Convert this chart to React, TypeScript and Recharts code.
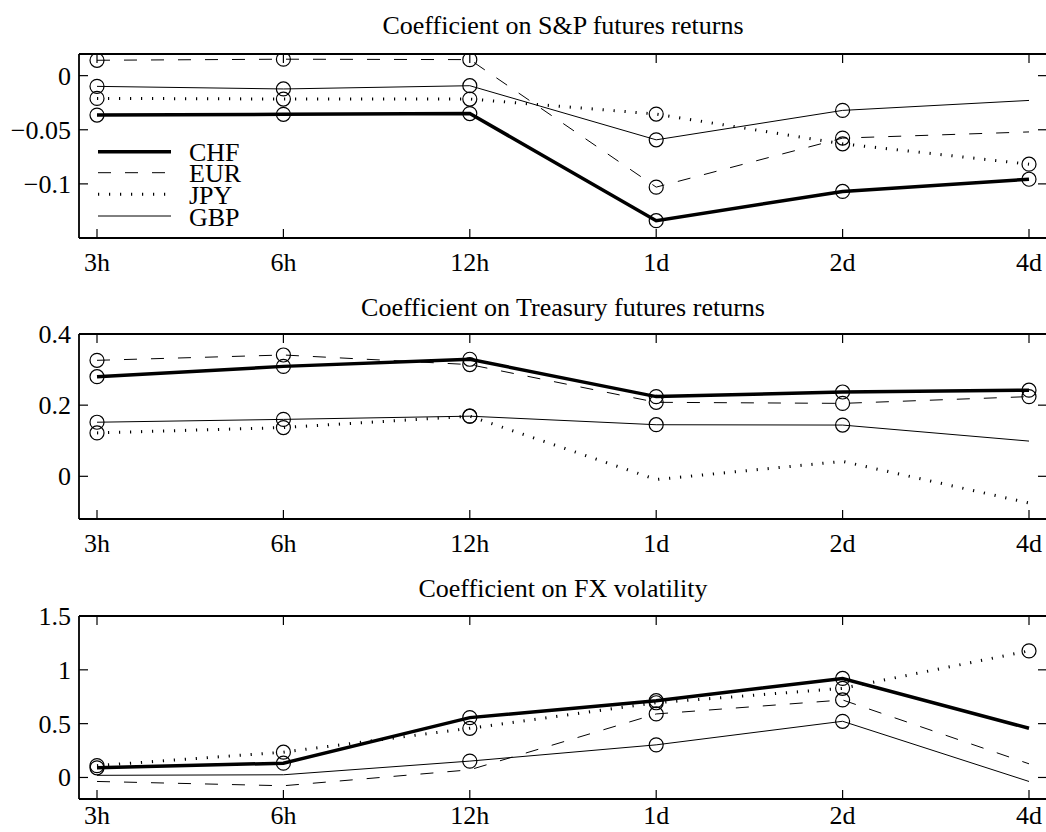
import React from 'react';
import { LineChart, Line, XAxis, YAxis, ReferenceLine } from 'recharts';

const horizons = ['3h', '6h', '12h', '1d', '2d', '4d'];
const seriesNames = ['CHF', 'EUR', 'JPY', 'GBP'];

// Coefficient on S&P futures returns
const spCHF = [-0.0364, -0.0357, -0.035, -0.134, -0.107, -0.0957];
const spEUR = [0.0142, 0.0152, 0.0148, -0.103, -0.0577, -0.052];
const spJPY = [-0.021, -0.0216, -0.0216, -0.0355, -0.063, -0.0818];
const spGBP = [-0.0099, -0.0123, -0.0093, -0.0593, -0.0321, -0.0229];
const spSig = { CHF: [1, 1, 1, 1, 1, 1], EUR: [1, 1, 1, 1, 1, 0], JPY: [1, 1, 1, 1, 1, 1], GBP: [1, 1, 1, 1, 1, 0] };
const spTicks = [-0.1, -0.05, 0];
const spDomain = [-0.15, 0.02];

// Coefficient on Treasury futures returns
const tyCHF = [0.28, 0.309, 0.329, 0.224, 0.237, 0.242];
const tyEUR = [0.326, 0.341, 0.314, 0.208, 0.205, 0.224];
const tyJPY = [0.122, 0.137, 0.169, -0.009, 0.042, -0.075];
const tyGBP = [0.152, 0.16, 0.169, 0.145, 0.144, 0.099];
const tySig = { CHF: [1, 1, 1, 1, 1, 1], EUR: [1, 1, 1, 1, 1, 1], JPY: [1, 1, 1, 0, 0, 0], GBP: [1, 1, 1, 1, 1, 0] };
const tyTicks = [0, 0.2, 0.4];
const tyDomain = [-0.12, 0.4];

// Coefficient on FX volatility
const fxCHF = [0.09, 0.133, 0.556, 0.713, 0.92, 0.457];
const fxEUR = [-0.037, -0.077, 0.071, 0.59, 0.72, 0.127];
const fxJPY = [0.11, 0.235, 0.457, 0.694, 0.828, 1.176];
const fxGBP = [0.02, 0.025, 0.152, 0.303, 0.522, -0.037];
const fxSig = { CHF: [1, 1, 1, 1, 1, 0], EUR: [0, 0, 0, 1, 1, 0], JPY: [1, 1, 1, 1, 1, 1], GBP: [0, 0, 1, 1, 1, 0] };
const fxTicks = [0, 0.5, 1, 1.5];
const fxDomain = [-0.2, 1.5];

const titles = [
  'Coefficient on S&P futures returns',
  'Coefficient on Treasury futures returns',
  'Coefficient on FX volatility',
];

const FONT = 'Liberation Serif, Times New Roman, serif';
const FS = 26;

const STYLE: Record<string, { w: number; dash?: string }> = {
  CHF: { w: 3.5 },
  EUR: { w: 1, dash: '13 14' },
  JPY: { w: 3, dash: '1.2 9.8' },
  GBP: { w: 1 },
};

const build = (c: number[], e: number[], j: number[], g: number[]) =>
  horizons.map((h, i) => ({ h, CHF: c[i], EUR: e[i], JPY: j[i], GBP: g[i] }));

const fmt = (v: number) => {
  const s = String(Math.abs(v));
  return v < 0 ? '\u2212' + s : s;
};

const makeDot = (flags: number[]) => (props: any) => {
  const { cx, cy, index } = props;
  if (!flags[index] || cx == null || cy == null) return <g key={`n-${index}`} />;
  return <circle key={`c-${index}`} cx={cx} cy={cy} r={7} fill="none" stroke="#000" strokeWidth={1.2} />;
};

const CHART_W = 1050;
const PLOT_L = 79;
const PLOT_R = 1047;
const TICK = 9;

function Panel(props: {
  top: number; height: number; plotTop: number; plotBottom: number; labelGap: number;
  domain: number[]; ticks: number[]; data: any[]; sig: Record<string, number[]>;
}) {
  const { top, height, plotTop, plotBottom, labelGap, domain, ticks, data, sig } = props;
  const XTick = (p: any) => (
    <g>
      <line x1={p.x} x2={p.x} y1={plotBottom} y2={plotBottom - TICK} stroke="#000" strokeWidth={1.2} />
      <line x1={p.x} x2={p.x} y1={plotTop} y2={plotTop + TICK} stroke="#000" strokeWidth={1.2} />
      <text x={p.x} y={plotBottom + labelGap} textAnchor="middle" fontFamily={FONT} fontSize={FS} fill="#000">
        {p.payload.value}
      </text>
    </g>
  );
  const YTick = (p: any) => (
    <g>
      <line x1={PLOT_L} x2={PLOT_L + TICK} y1={p.y} y2={p.y} stroke="#000" strokeWidth={1.2} />
      <line x1={PLOT_R} x2={PLOT_R - TICK} y1={p.y} y2={p.y} stroke="#000" strokeWidth={1.2} />
      <text x={71} y={p.y + 9} textAnchor="end" fontFamily={FONT} fontSize={FS} fill="#000">
        {fmt(p.payload.value)}
      </text>
    </g>
  );
  return (
    <div style={{ position: 'absolute', left: 0, top, width: CHART_W, height }}>
      <LineChart
        width={CHART_W}
        height={height}
        data={data}
        margin={{ top: plotTop, right: CHART_W - PLOT_R, bottom: 0, left: 0 }}
      >
        <XAxis
          dataKey="h"
          padding={{ left: 18, right: 18 }}
          height={height - plotBottom}
          axisLine={{ stroke: '#000', strokeWidth: 1.8 }}
          tickLine={false}
          tick={XTick}
          interval={0}
        />
        <YAxis
          type="number"
          domain={domain}
          ticks={ticks}
          width={PLOT_L}
          axisLine={{ stroke: '#000', strokeWidth: 1.8 }}
          tickLine={false}
          tick={YTick}
          allowDataOverflow
        />
        <ReferenceLine y={domain[1]} stroke="#000" strokeWidth={1.8} />
        {seriesNames.map((s) => (
          <Line
            key={s}
            type="linear"
            dataKey={s}
            stroke="#000"
            strokeWidth={STYLE[s].w}
            strokeDasharray={STYLE[s].dash}
            dot={makeDot(sig[s])}
            activeDot={false}
            isAnimationActive={false}
          />
        ))}
      </LineChart>
    </div>
  );
}

export default function App() {
  const legendY = [151.7, 172.7, 194.3, 216];
  return (
    <div style={{ position: 'absolute', left: 0, top: 0, width: 1046, height: 832, overflow: 'hidden', background: '#fff' }}>
      <Panel top={0} height={290} plotTop={54} plotBottom={238} labelGap={33} domain={spDomain} ticks={spTicks}
        data={build(spCHF, spEUR, spJPY, spGBP)} sig={spSig} />
      <Panel top={290} height={270} plotTop={44} plotBottom={229} labelGap={33} domain={tyDomain} ticks={tyTicks}
        data={build(tyCHF, tyEUR, tyJPY, tyGBP)} sig={tySig} />
      <Panel top={560} height={272} plotTop={56} plotBottom={239} labelGap={25} domain={fxDomain} ticks={fxTicks}
        data={build(fxCHF, fxEUR, fxJPY, fxGBP)} sig={fxSig} />
      <svg width={1046} height={832} style={{ position: 'absolute', left: 0, top: 0, pointerEvents: 'none' }}>
        <text x={563} y={34} textAnchor="middle" fontFamily={FONT} fontSize={FS} fill="#000">{titles[0]}</text>
        <text x={563} y={316} textAnchor="middle" fontFamily={FONT} fontSize={FS} fill="#000">{titles[1]}</text>
        <text x={563} y={597} textAnchor="middle" fontFamily={FONT} fontSize={FS} fill="#000">{titles[2]}</text>
        {seriesNames.map((s, i) => (
          <g key={s}>
            <line x1={98} x2={171} y1={legendY[i]} y2={legendY[i]} stroke="#000"
              strokeWidth={STYLE[s].w} strokeDasharray={STYLE[s].dash} />
            <text x={189} y={legendY[i] + 9.5} fontFamily={FONT} fontSize={FS} fill="#000">{s}</text>
          </g>
        ))}
      </svg>
    </div>
  );
}
